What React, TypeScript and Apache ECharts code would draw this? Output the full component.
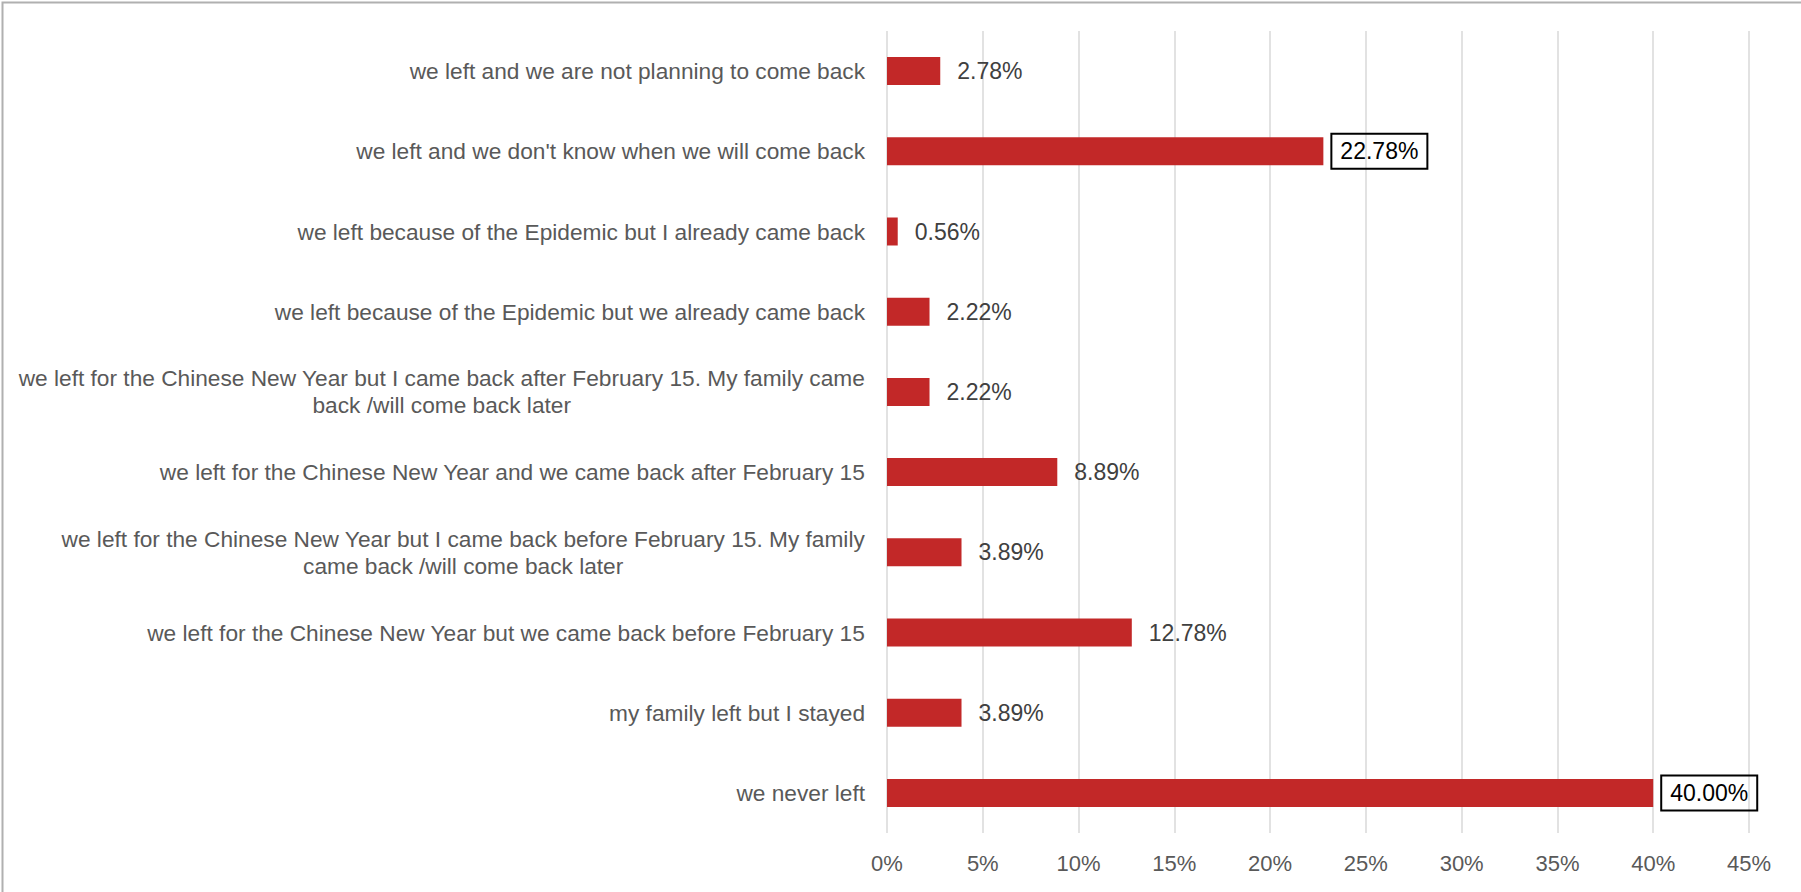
import React, { useEffect, useRef } from "react";
import * as echarts from "echarts";

const categories: string[] = [
  "we left and we are not planning to come back",
  "we left and we don't know when we will come back",
  "we left because of the Epidemic but I already came back",
  "we left because of the Epidemic but we already came back",
  "we left for the Chinese New Year but I came back after February 15. My family came\nback /will come back later",
  "we left for the Chinese New Year and we came back after February 15",
  "we left for the Chinese New Year but I came back before February 15. My family\ncame back /will come back later",
  "we left for the Chinese New Year but we came back before February 15",
  "my family left but I stayed",
  "we never left",
];

const values: number[] = [2.78, 22.78, 0.56, 2.22, 2.22, 8.89, 3.89, 12.78, 3.89, 40.0];

const boxedIndices: number[] = [1, 9];

const xTicks = { min: 0, max: 45, interval: 5 };

const FONT = "'Liberation Sans', Arial, sans-serif";

export default function App() {
  const ref = useRef<HTMLDivElement>(null);

  useEffect(() => {
    if (!ref.current) return;
    const chart = echarts.init(ref.current, undefined, { renderer: "svg" });

    const data = values.map((v, i) => {
      const boxed = boxedIndices.includes(i);
      return {
        value: v,
        label: boxed
          ? { borderColor: "#000000", borderWidth: 2, color: "#000000" }
          : { borderWidth: 0 },
      };
    });

    chart.setOption({
      animation: false,
      backgroundColor: "#ffffff",
      grid: { left: 887, right: 52, top: 31, bottom: 59, containLabel: false },
      xAxis: {
        type: "value",
        min: xTicks.min,
        max: xTicks.max,
        interval: xTicks.interval,
        axisLine: { show: false },
        axisTick: { show: false },
        splitLine: { show: true, lineStyle: { color: "#d9d9d9", width: 1.5 } },
        axisLabel: {
          formatter: "{value}%",
          color: "#595959",
          fontSize: 22,
          fontFamily: FONT,
          margin: 19,
        },
      },
      yAxis: {
        type: "category",
        data: categories,
        inverse: true,
        axisLine: { show: false },
        axisTick: { show: false },
        splitLine: { show: false },
        axisLabel: {
          margin: 22,
          align: "right",
          formatter: (val: string) =>
            val
              .split("\n")
              .map((l) => "{c|" + l + "}")
              .join("\n"),
          rich: {
            c: {
              align: "center",
              color: "#595959",
              fontSize: 22.7,
              fontFamily: FONT,
              lineHeight: 27,
            },
          },
        },
      },
      series: [
        {
          type: "bar",
          data,
          barWidth: 28,
          itemStyle: { color: "#C22828" },
          label: {
            show: true,
            position: "right",
            distance: 8,
            padding: [6, 9, 6, 9],
            color: "#404040",
            fontSize: 23,
            fontFamily: FONT,
            formatter: (p: any) => Number(p.value).toFixed(2) + "%",
          },
        },
      ],
      graphic: [
        {
          type: "rect",
          left: 0,
          top: 0,
          shape: { x: 0, y: 0, width: 1800, height: 891 },
          style: { fill: "none", stroke: "#b0b0b0", lineWidth: 2 },
          silent: true,
        },
      ],
    });

    return () => chart.dispose();
  }, []);

  return (
    <div
      ref={ref}
      style={{ position: "fixed", left: 0, top: 0, width: 1801, height: 892 }}
    />
  );
}
